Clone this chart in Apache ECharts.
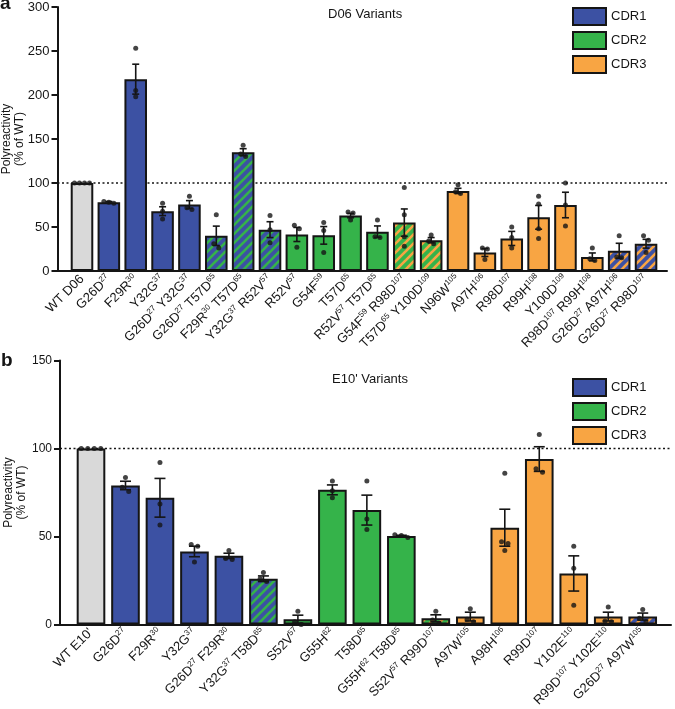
<!DOCTYPE html>
<html>
<head>
<meta charset="utf-8">
<script src="https://cdn.jsdelivr.net/npm/echarts@6/dist/echarts.min.js"></script>
<style>html,body{margin:0;padding:0;background:#fff}#c{width:675px;height:709px}</style>
</head>
<body>
<div id="c"></div>
<script>
// ---------- DATA ----------
const catsA = ['WT D06','G26D^27','F29R^30','Y32G^37','G26D^27 Y32G^37','G26D^27 T57D^65','F29R^30 T57D^65','Y32G^37 R52V^57','R52V^57','G54F^59','T57D^65','R52V^57 T57D^65','G54F^59 R98D^107','T57D^65 Y100D^109','N96W^105','A97H^106','R98D^107','R99H^108','Y100D^109','R98D^107 R99H^108','G26D^27 A97H^106','G26D^27 R98D^107'];
const groupA = ['WT','CDR1','CDR1','CDR1','CDR1','CDR1+2','CDR1+2','CDR1+2','CDR2','CDR2','CDR2','CDR2','CDR2+3','CDR2+3','CDR3','CDR3','CDR3','CDR3','CDR3','CDR3','CDR1+3','CDR1+3'];
const meanA = [100,78,218,68,75.5,40,135,47,41.5,40.5,63,44.7,55,35,91,21,37,61,75,16,23,31];
const semA = [0,1,17,5,4.5,11,4,9,8,10,2.5,6.5,15.5,3,3,4.5,8,13.5,14.5,4.5,8.5,5];
const pointsA = [[100,100,100,100],[78,79,77],[253,205,198],[77,68,59],[85,72,70],[64,31,26],[143,133,130],[63,47,32],[52,48,27],[55,46,21],[67,66,58],[58,39,38],[95,64,39,28],[41,34,31],[98,90,88],[26,25,13],[50,38,26],[85,76,48,37],[100,75,51],[26,14,12],[40,16,15],[40,35,21]];

const catsB = ["WT E10'",'G26D^27','F29R^30','Y32G^37','G26D^27 F29R^30','Y32G^37 T58D^65','S52V^57','G55H^62','T58D^65','G55H^62 T58D^65','S52V^57 R99D^107','A97W^105','A98H^106','R99D^107','Y102E^110','R99D^107 Y102E^110','G26D^27 A97W^105'];
const groupB = ['WT','CDR1','CDR1','CDR1','CDR1','CDR1+2','CDR2','CDR2','CDR2','CDR2','CDR2+3','CDR3','CDR3','CDR3','CDR3','CDR3','CDR1+3'];
const meanB = [100,79,72,41.5,39,26,3,76.5,65,50.3,3.5,4.5,55,94,29,4.5,4.5];
const semB = [0,2.4,11,3,1.5,1.6,2.3,2.8,8.5,0.4,2,2.5,10.5,7,10,2.5,2];
const pointsB = [[100,100,100,100],[83.5,78,75.5],[92,68.5,56.5],[45.5,44.5,35.5],[42,37.5,37],[29.5,26,24.5],[7.5,1.5,0],[81.5,76,72],[81.5,60,54],[51,50.5,49.5],[7.5,2.5,0.5],[9,3,1.5],[86,47,46,42],[108,88.5,86.5],[44.5,32,11],[10,2,1.5],[8.5,3.5,1.5]];

const ticksA = [0,300,50];
const ticksB = [0,150,50];
const refLine = 100;
const legendNames = ['CDR1','CDR2','CDR3'];

// ---------- STYLE ----------
const BLUE='#3c51a3', GREEN='#35b34a', ORANGE='#f8a543', GREY='#d9d9d9', INK='#151515';
const FONT='"Liberation Sans", Arial, Helvetica, sans-serif';
function stripeTile(base, stripe){
  const s=9, c=document.createElement('canvas'); c.width=s; c.height=s;
  const g=c.getContext('2d');
  g.fillStyle=base; g.fillRect(0,0,s,s);
  g.strokeStyle=stripe; g.lineWidth=2.6;
  for(let k=-1;k<=1;k++){ g.beginPath(); g.moveTo(k*s-1, s+1); g.lineTo(k*s+s+1, -1); g.stroke(); }
  return {image:c, repeat:'repeat'};
}
const groupStyle = {
  'WT':{color:GREY},
  'CDR1':{color:BLUE},
  'CDR2':{color:GREEN},
  'CDR3':{color:ORANGE},
  'CDR1+2':{color:stripeTile(BLUE,GREEN)},
  'CDR2+3':{color:stripeTile(GREEN,ORANGE)},
  'CDR1+3':{color:stripeTile(BLUE,ORANGE)}
};
function richLabel(s){
  return s.split(/(\^\d+)/).filter(Boolean).map(t=>t[0]==='^'?'{s|'+t.slice(1)+'}':'{n|'+t+'}').join('');
}
function barData(means, groups){
  return means.map((m,i)=>({value:m,itemStyle:Object.assign({borderColor:INK,borderWidth:2},groupStyle[groups[i]])}));
}
function pointData(points, pxPerUnit, step){
  const out=[];
  points.forEach((arr,i)=>{
    const sorted=arr.slice().sort((a,b)=>b-a);
    const thr=5/pxPerUnit;
    let clusters=[], cur=[sorted[0]];
    for(let k=1;k<sorted.length;k++){
      if(cur[cur.length-1]-sorted[k] < thr) cur.push(sorted[k]); else {clusters.push(cur);cur=[sorted[k]];}
    }
    clusters.push(cur);
    clusters.forEach(cl=>{cl.forEach((v,k)=>{out.push({value:[i,v],symbolOffset:[(k-(cl.length-1)/2)*step,0]});});});
  });
  return out;
}
function errData(means, sems){
  const d=[]; means.forEach((m,i)=>{ if(sems[i]>0) d.push([i,m,sems[i]]); }); return d;
}
function errRender(capW){
  return function(params, api){
    const x=api.value(0), m=api.value(1), s=api.value(2);
    const t=api.coord([x,m+s]), b=api.coord([x,Math.max(0,m-s)]);
    const st={stroke:INK,lineWidth:1.6};
    return {type:'group',children:[
      {type:'line',shape:{x1:t[0],y1:t[1],x2:b[0],y2:b[1]},style:st},
      {type:'line',shape:{x1:t[0]-capW/2,y1:t[1],x2:t[0]+capW/2,y2:t[1]},style:st},
      {type:'line',shape:{x1:b[0]-capW/2,y1:b[1],x2:b[0]+capW/2,y2:b[1]},style:st}
    ]};
  };
}

// layout
const A = {top:7, h:264, frameL:57.5, frameW:609.5, barL:68.57, barW:590.9};
const B = {top:360.5, h:264, frameL:60, frameW:611, barL:73.76, barW:586.2};

function frameY(t, fs, gap){
  return {type:'value',min:t[0],max:t[1],interval:t[2],
    axisLine:{show:true,lineStyle:{color:INK,width:2}},
    axisTick:{show:true,length:6,lineStyle:{color:INK,width:2}},
    axisLabel:{fontSize:fs,color:INK,margin:8,fontFamily:FONT},
    splitLine:{show:false},
    name:'Polyreactivity\n(% of WT)',nameLocation:'middle',nameRotate:90,nameGap:gap,nameMoveOverlap:false,
    nameTextStyle:{fontSize:12,lineHeight:13,color:INK,fontFamily:FONT}};
}
function frameX(){
  return {type:'value',min:0,max:1,axisLine:{show:true,onZero:false,lineStyle:{color:INK,width:2}},axisTick:{show:false},axisLabel:{show:false},splitLine:{show:false}};
}
function barX(cats){
  return {type:'category',data:cats,axisLine:{show:false},axisTick:{show:false},
    axisLabel:{interval:0,rotate:45,margin:6,color:INK,fontFamily:FONT,formatter:v=>richLabel(v),
      rich:{n:{fontSize:13,lineHeight:15,fontFamily:FONT,color:INK},s:{fontSize:8,lineHeight:15,verticalAlign:'top',fontFamily:FONT,color:INK}}}};
}
function hiddenY(t){return {type:'value',min:t[0],max:t[1],show:false};}
function grid(l,t,w,h){return {left:l,top:t,width:w,height:h,containLabel:false,outerBoundsMode:'none'};}

const option = {
  animation:false,
  textStyle:{fontFamily:FONT},
  title:[
    {text:'a',left:0,top:-6,padding:0,textStyle:{fontSize:19,fontWeight:'bold',color:INK,fontFamily:FONT}},
    {text:'D06 Variants',left:328,top:8,padding:0,textStyle:{fontSize:13,fontWeight:'normal',color:INK,fontFamily:FONT}},
    {text:'b',left:1,top:351,padding:0,textStyle:{fontSize:19,fontWeight:'bold',color:INK,fontFamily:FONT}},
    {text:"E10' Variants",left:332,top:373,padding:0,textStyle:{fontSize:13,fontWeight:'normal',color:INK,fontFamily:FONT}}
  ],
  legend:[
    {data:legendNames,orient:'vertical',left:567,top:2,itemWidth:33,itemHeight:17,itemGap:5,icon:'rect',selectedMode:false,
      itemStyle:{borderColor:INK,borderWidth:2},textStyle:{fontSize:13,color:INK,fontFamily:FONT}},
    {data:legendNames,orient:'vertical',left:567,top:373,itemWidth:33,itemHeight:17,itemGap:5,icon:'rect',selectedMode:false,
      itemStyle:{borderColor:INK,borderWidth:2},textStyle:{fontSize:13,color:INK,fontFamily:FONT}}
  ],
  grid:[
    grid(A.frameL,A.top,A.frameW,A.h),
    grid(A.barL,A.top,A.barW,A.h),
    grid(B.frameL,B.top,B.frameW,B.h),
    grid(B.barL,B.top,B.barW,B.h),
    grid(-50,-50,10,10)
  ],
  xAxis:[frameX(),Object.assign(barX(catsA),{gridIndex:1}),Object.assign(frameX(),{gridIndex:2}),Object.assign(barX(catsB),{gridIndex:3}),
    {type:'category',gridIndex:4,data:['x'],show:false}],
  yAxis:[frameY(ticksA,13,31),Object.assign(hiddenY(ticksA),{gridIndex:1}),Object.assign(frameY(ticksB,12,32),{gridIndex:2}),Object.assign(hiddenY(ticksB),{gridIndex:3}),
    {type:'value',gridIndex:4,show:false}],
  series:[
    {type:'line',xAxisIndex:0,yAxisIndex:0,data:[[0,refLine],[1,refLine]],symbol:'none',z:1,lineStyle:{color:INK,width:1.5,type:[2,2.5]}},
    {type:'line',xAxisIndex:2,yAxisIndex:2,data:[[0,refLine],[1,refLine]],symbol:'none',z:1,lineStyle:{color:INK,width:1.5,type:[2,2.5]}},
    {type:'bar',xAxisIndex:1,yAxisIndex:1,data:barData(meanA,groupA),barCategoryGap:'16%',z:3},
    {type:'bar',xAxisIndex:3,yAxisIndex:3,data:barData(meanB,groupB),barCategoryGap:'17%',z:3},
    {type:'custom',xAxisIndex:1,yAxisIndex:1,data:errData(meanA,semA),renderItem:errRender(7),z:4},
    {type:'custom',xAxisIndex:3,yAxisIndex:3,data:errData(meanB,semB),renderItem:errRender(11),z:4},
    {type:'scatter',xAxisIndex:1,yAxisIndex:1,data:pointData(pointsA,0.88,5),symbolSize:5,itemStyle:{color:INK},z:5},
    {type:'scatter',xAxisIndex:3,yAxisIndex:3,data:pointData(pointsB,1.76,6.5),symbolSize:5,itemStyle:{color:INK},z:5},
    {name:'CDR1',type:'bar',xAxisIndex:4,yAxisIndex:4,data:[],itemStyle:{color:BLUE}},
    {name:'CDR2',type:'bar',xAxisIndex:4,yAxisIndex:4,data:[],itemStyle:{color:GREEN}},
    {name:'CDR3',type:'bar',xAxisIndex:4,yAxisIndex:4,data:[],itemStyle:{color:ORANGE}}
  ]
};
const chart = echarts.init(document.getElementById('c'),null,{renderer:'canvas'});
chart.setOption(option);
</script>
</body>
</html>
